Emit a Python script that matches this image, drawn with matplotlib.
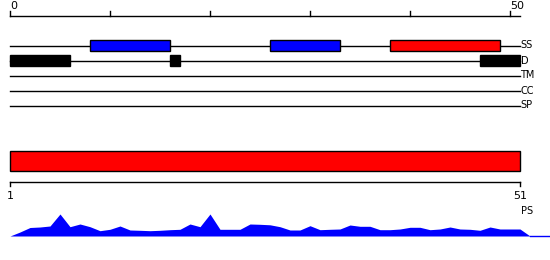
import numpy as np
import matplotlib.pyplot as plt
from matplotlib.patches import Rectangle

# sequence / ruler
seq_len = 51
ruler_ticks = [0, 10, 20, 30, 40, 50]
ruler_labels = ['0', '', '', '', '', '50']

# feature tracks
tracks = ['SS', 'D', 'TM', 'CC', 'SP']
ss_start = [8, 26, 38]
ss_end = [16, 33, 49]
ss_color = ['#0000ff', '#0000ff', '#ff0000']
d_start = [0, 16, 47]
d_end = [6, 17, 51]

# whole-sequence bar and its ruler
full_start = 0
full_end = 51
full_color = '#ff0000'
bottom_labels = ['1', '51']

# PS profile (one value per position)
ps_values = [0, 4, 8.5, 9, 10, 22, 9.3, 12, 9.3, 5.3, 6.7, 10, 6, 5.7, 5.3, 5.7,
             6.3, 6.7, 12, 9.3, 22, 6.7, 6.7, 6.7, 12, 11.7, 11.2, 9.3, 6, 6,
             10.3, 6.3, 6.7, 7, 11, 9.7, 9.7, 6.3, 6.3, 7, 8.7, 8.7, 6.3, 7,
             9, 7, 6.7, 5.7, 9, 7, 7, 7, 0]

fig = plt.figure(figsize=(5.5, 2.6), dpi=100)
ax = fig.add_axes([0, 0, 1, 1])
ax.set_xlim(-1, 54)
ax.set_ylim(260, 0)
ax.axis('off')

# top ruler
ax.plot([0, seq_len], [15.5, 15.5], color='k', lw=1)
for t, lab in zip(ruler_ticks, ruler_labels):
    ax.plot([t, t], [15.5, 10.5], color='k', lw=1)
    if lab:
        ax.text(t, 11, lab, ha='left', va='bottom', fontsize=8)

# track lines + labels
track_y = [45.5, 60.5, 75.5, 90.5, 105.5]
for name, y in zip(tracks, track_y):
    ax.plot([0, seq_len], [y, y], color='k', lw=1, zorder=1)
    ax.text(seq_len + 0.05, y, name, ha='left', va='center', fontsize=7)

for s, e, c in zip(ss_start, ss_end, ss_color):
    ax.add_patch(Rectangle((s, track_y[0] - 5.3), e - s, 10.6,
                           facecolor=c, edgecolor='k', lw=1, zorder=2))
for s, e in zip(d_start, d_end):
    ax.add_patch(Rectangle((s, track_y[1] - 5.3), e - s, 10.6,
                           facecolor='k', edgecolor='k', lw=1, zorder=2))

# full bar
ax.add_patch(Rectangle((full_start, 150.5), full_end - full_start, 20.5,
                       facecolor=full_color, edgecolor='k', lw=1))

# bottom ruler
ax.plot([full_start, full_end], [181.5, 181.5], color='k', lw=1)
for t, lab in zip([full_start, full_end], bottom_labels):
    ax.plot([t, t], [181.5, 186], color='k', lw=1)
    ax.text(t, 196, lab, ha='center', va='center', fontsize=8)

# PS profile
base = 236
x = np.arange(len(ps_values))
ax.fill_between(x, base, base - np.array(ps_values), color='#0000ff', lw=0)
ax.plot([x[-1], 54], [base - 0.5, base - 0.5], color='#0000ff', lw=1)
ax.text(seq_len + 0.1, 211.5, 'PS', ha='left', va='center', fontsize=7)

fig.savefig('out.png', dpi=100)
